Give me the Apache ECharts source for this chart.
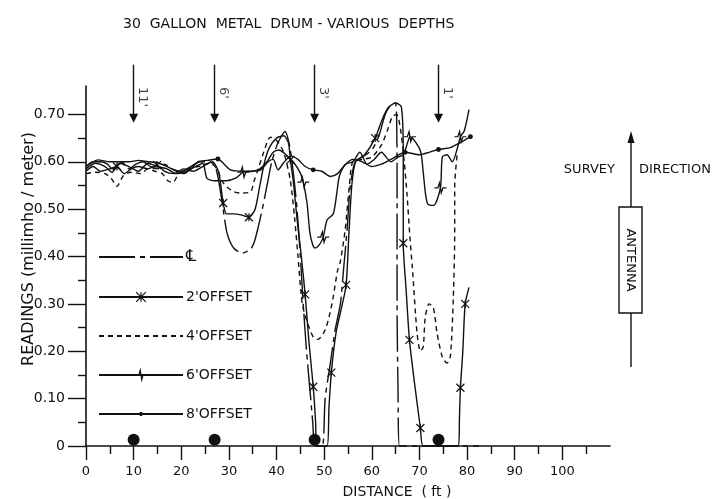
<!DOCTYPE html>
<html>
<head>
<meta charset="utf-8">
<script src="https://cdn.jsdelivr.net/npm/echarts@6/dist/echarts.min.js"></script>
<style>
  html, body { margin: 0; padding: 0; background: #fff; }
  #chart { width: 716px; height: 499px; }
</style>
</head>
<body>
<div id="chart"></div>
<script>
// readings (millimho/meter) vs distance (ft); third value 1 = drawn marker
const clLine = [
  [0, 0.59], [1.5, 0.60], [3, 0.60], [4.5, 0.595], [5.5, 0.585], [6.5, 0.59], [7.5, 0.60], [9, 0.585],
  [10.5, 0.595], [12, 0.60], [13.5, 0.59], [15, 0.585], [16.5, 0.595], [18, 0.585], [20, 0.58], [22, 0.59],
  [24, 0.60], [26, 0.60], [27.3, 0.585], [28.5, 0.52], [29.6, 0.45], [31, 0.418], [32.8, 0.407], [34.5, 0.415],
  [35.3, 0.43], [36.1, 0.46], [37, 0.50], [38, 0.55], [39, 0.60], [40.3, 0.64], [41.8, 0.664], [42.8, 0.63],
  [43.6, 0.57], [44.3, 0.50], [45, 0.40], [45.6, 0.30], [46.3, 0.20], [47, 0.12], [47.6, 0.05], [48.1, 0],
  [49.6, 0], [50.2, 0.10], [51.3, 0.175], [52.3, 0.245], [53.4, 0.30], [54, 0.365], [54.8, 0.456], [55.5, 0.55],
  [56.5, 0.60], [58, 0.61], [60, 0.625], [61.5, 0.655], [62.8, 0.70], [64, 0.72], [64.9, 0.724], [65.2, 0.70],
  [65.3, 0.55], [65.3, 0.30], [65.5, 0.12], [65.8, 0], [70, 0], [76, 0], [82.5, 0]
];
const offset2 = [
  [0, 0.58], [1.5, 0.59], [3, 0.58], [5, 0.585], [6.5, 0.59, 1], [8, 0.575], [9.5, 0.585], [11, 0.59],
  [13, 0.585], [14.9, 0.593, 1], [16.5, 0.58], [18.5, 0.575], [20.5, 0.585], [22.5, 0.58], [24.5, 0.59], [26.5, 0.60],
  [27.8, 0.58], [28.3, 0.55], [28.8, 0.513, 1], [29.5, 0.49], [31, 0.49], [32.5, 0.488], [34.2, 0.483, 1], [35.5, 0.50],
  [36.5, 0.55], [37.5, 0.60], [38.5, 0.63], [40, 0.65], [41.5, 0.655], [42.5, 0.64], [42.9, 0.604, 1], [43.5, 0.56],
  [44.3, 0.48], [45.2, 0.40], [46, 0.32, 1], [46.8, 0.22], [47.7, 0.125, 1], [48.2, 0.05], [48.4, 0], [50.6, 0],
  [51, 0.08], [51.5, 0.155, 1], [52.5, 0.24], [53.6, 0.29], [54.6, 0.34, 1], [55.2, 0.45], [55.8, 0.55], [56.6, 0.60],
  [58.5, 0.615], [60.7, 0.65, 1], [62.2, 0.69], [63.5, 0.715], [65, 0.724], [66.2, 0.716], [66.6, 0.62], [66.6, 0.428, 1],
  [67.2, 0.33], [67.9, 0.224, 1], [69, 0.13], [70.2, 0.038, 1], [70.8, 0], [74, 0], [78.2, 0], [78.4, 0.06],
  [78.6, 0.123, 1], [79.1, 0.2], [79.6, 0.30, 1], [80.4, 0.335]
];
const offset4 = [
  [0, 0.575], [2, 0.578], [4, 0.575], [5.3, 0.565], [6.5, 0.548], [7.8, 0.57], [9.5, 0.578], [11.5, 0.575],
  [13, 0.585], [14.5, 0.58], [16, 0.575], [17.2, 0.56], [18.2, 0.556], [19.5, 0.575], [21.5, 0.585], [23.5, 0.59],
  [26, 0.597], [27.5, 0.585], [28.5, 0.56], [29.6, 0.547], [31, 0.537], [32.3, 0.534], [34.5, 0.536], [35.3, 0.56],
  [36.1, 0.583], [37.3, 0.62], [38.7, 0.652], [40, 0.645], [41.5, 0.62], [42.9, 0.56], [43.8, 0.48], [44.5, 0.40],
  [45.4, 0.30], [46.5, 0.26], [47.7, 0.23], [48.7, 0.225], [50.2, 0.245], [51.2, 0.28], [51.9, 0.315], [52.8, 0.37],
  [53.4, 0.39], [54.4, 0.456], [55.3, 0.55], [56, 0.60], [58, 0.605], [60, 0.61], [62, 0.635], [63.4, 0.67],
  [64.3, 0.695], [65.2, 0.70], [66, 0.67], [66.8, 0.60], [67.4, 0.53], [68, 0.44], [68.5, 0.378], [69.5, 0.238],
  [70.2, 0.20], [70.8, 0.21], [71.2, 0.27], [72, 0.30], [72.9, 0.293], [73.7, 0.238], [74.8, 0.188], [75.8, 0.175],
  [76.5, 0.19], [77.1, 0.31], [77.4, 0.45], [77.4, 0.55], [77.9, 0.614]
];
const offset6 = [
  [0, 0.585], [2, 0.597], [4, 0.59], [5.5, 0.578], [7, 0.597], [9, 0.59], [11, 0.58], [13, 0.597],
  [15, 0.59], [17, 0.585], [19, 0.575], [21, 0.58], [23, 0.59], [24.5, 0.597], [25.4, 0.565], [27, 0.56],
  [29.5, 0.56], [31.5, 0.566], [33, 0.578, 1], [35, 0.58], [36.5, 0.585], [38, 0.60], [39.3, 0.62], [40.5, 0.625],
  [42, 0.615], [43.5, 0.60], [45, 0.576], [45.6, 0.557, 1], [46.4, 0.513], [47, 0.45], [47.6, 0.425], [48.1, 0.418],
  [49, 0.425], [49.8, 0.441, 1], [50.6, 0.477], [51.9, 0.49], [52.6, 0.53], [53.2, 0.57], [54.5, 0.595], [56, 0.60],
  [57.5, 0.62], [59, 0.595], [60.5, 0.605], [62, 0.62], [64, 0.60], [65.5, 0.61], [66.6, 0.615], [67.5, 0.64],
  [68, 0.653, 1], [69.3, 0.64], [70.3, 0.62], [70.8, 0.577], [71.3, 0.53], [71.8, 0.51], [73, 0.508], [74.4, 0.545, 1],
  [74.8, 0.61], [75.8, 0.615], [76.9, 0.60], [78, 0.63], [78.6, 0.653, 1], [79.4, 0.665], [80.4, 0.71]
];
const offset8 = [
  [0, 0.59], [1.5, 0.60], [2.5, 0.604], [5, 0.60], [7, 0.60], [9, 0.60], [11, 0.603], [13, 0.60],
  [15, 0.598], [17, 0.59], [19, 0.58], [20.5, 0.575], [22, 0.585], [23.5, 0.60], [25.5, 0.603], [27.7, 0.606, 1],
  [29, 0.595], [30.3, 0.583], [33, 0.58], [36.5, 0.582], [38.2, 0.60], [39.3, 0.605], [40.3, 0.583], [41.5, 0.598],
  [43, 0.612], [44.5, 0.605], [46, 0.59], [47.7, 0.583, 1], [49.5, 0.58], [51.3, 0.569], [52.8, 0.575], [54.5, 0.595],
  [56, 0.605], [58, 0.60], [60, 0.59], [62, 0.595], [64, 0.605], [67, 0.62, 1], [70, 0.615], [72, 0.62],
  [74, 0.626, 1], [76.5, 0.63], [78.5, 0.64], [80.7, 0.653, 1]
];

// buried drums: distance along survey line and depth
const drumDist = [10, 27, 48, 74];
const drumDepth = ["11'", "6'", "3'", "1'"];

const seriesNames = ['\u2104', "2'OFFSET", "4'OFFSET", "6'OFFSET", "8'OFFSET"];

const xMajorTicks = [0, 10, 20, 30, 40, 50, 60, 70, 80, 90, 100];
const xMinorTicks = [5, 15, 25, 35, 45, 55, 65, 75, 85, 95, 105];
const yMajorTicks = [0, 0.1, 0.2, 0.3, 0.4, 0.5, 0.6, 0.7];
const yMinorTicks = [0.05, 0.15, 0.25, 0.35, 0.45, 0.55, 0.65];

const INK = '#111';
const FONT = 'DejaVu Sans';
const ARROW_TOP = 0.805, ARROW_TIP = 0.692, LABEL_Y = 0.758, DOT_Y = 0.013;

const starSym = 'path://M0,0 L8,8 M8,0 L0,8 M4,0 L4,8';
const zigSym = 'path://M0,6 L4,6 L6,0 L8,12 L10,6 L14,6';
const dotSym = 'path://M0,0 M12,12 M6,4 A2,2 0 1 1 6,8 A2,2 0 1 1 6,4 Z';

function toItems(pts) {
  return pts.map(p => p[2] ? [p[0], p[1]] : { value: [p[0], p[1]], symbol: 'none' });
}

function curve(name, pts, dash, sym, symSize, fill) {
  return {
    name: name,
    type: 'line',
    smooth: 0.25,
    symbol: sym,
    symbolSize: symSize,
    showSymbol: true,
    clip: false,
    silent: true,
    data: toItems(pts),
    lineStyle: { color: INK, width: 1.4, type: dash },
    itemStyle: { color: fill, borderColor: INK, borderWidth: 1.2, opacity: 1 },
    z: 3
  };
}

const chart = echarts.init(document.getElementById('chart'));

const option = {
  animation: false,
  backgroundColor: '#fff',
  textStyle: { fontFamily: FONT, color: INK },
  title: {
    text: '30  GALLON  METAL  DRUM - VARIOUS  DEPTHS',
    left: 118, top: 12,
    textStyle: { fontFamily: FONT, fontSize: 14, fontWeight: 'normal', color: INK }
  },
  legend: {
    orient: 'vertical',
    left: 98, top: 249,
    itemWidth: 84, itemHeight: 12, itemGap: 25,
    padding: 0,
    selectedMode: false,
    textStyle: { fontFamily: FONT, fontSize: 14, color: INK, padding: [0, 0, 0, -2] },
    data: [
      { name: seriesNames[0], itemStyle: { color: 'transparent', borderWidth: 0 }, textStyle: { fontSize: 16 } },
      { name: seriesNames[1], itemStyle: { color: 'transparent', borderColor: INK, borderWidth: 1.2 } },
      { name: seriesNames[2], itemStyle: { color: 'transparent', borderWidth: 0 } },
      { name: seriesNames[3], itemStyle: { color: 'transparent', borderColor: INK, borderWidth: 1.2 } },
      { name: seriesNames[4], itemStyle: { color: INK, borderColor: INK, borderWidth: 1 } }
    ]
  },
  grid: { left: 86, right: 106, top: 86, bottom: 53 },
  xAxis: [
    {
      type: 'value', min: 0, max: 110, position: 'bottom',
      axisLine: { lineStyle: { color: INK, width: 1.6 } },
      axisTick: { customValues: xMajorTicks, length: 14, lineStyle: { color: INK, width: 1.4 } },
      axisLabel: { customValues: xMajorTicks, margin: 19, fontSize: 13, color: INK, fontFamily: FONT },
      splitLine: { show: false }
    },
    {
      type: 'value', min: 0, max: 110, position: 'bottom',
      axisLine: { show: false },
      axisTick: { customValues: xMinorTicks, length: 8, lineStyle: { color: INK, width: 1.4 } },
      axisLabel: { show: false },
      splitLine: { show: false }
    }
  ],
  yAxis: [
    {
      type: 'value', min: 0, max: 0.76, position: 'left',
      axisLine: { show: true, lineStyle: { color: INK, width: 1.6 } },
      axisTick: { show: true, customValues: yMajorTicks, length: 18, lineStyle: { color: INK, width: 1.4 } },
      axisLabel: {
        customValues: yMajorTicks, margin: 21, fontSize: 14, color: INK, fontFamily: FONT,
        formatter: v => (v === 0 ? '0' : v.toFixed(2))
      },
      splitLine: { show: false }
    },
    {
      type: 'value', min: 0, max: 0.76, position: 'left',
      axisLine: { show: false },
      axisTick: { show: true, customValues: yMinorTicks, length: 8, lineStyle: { color: INK, width: 1.4 } },
      axisLabel: { show: false },
      splitLine: { show: false }
    }
  ],
  series: [
    curve(seriesNames[0], clLine, [36, 5, 5, 5], 'none', 8, 'transparent'),
    curve(seriesNames[1], offset2, 'solid', starSym, 8, 'transparent'),
    curve(seriesNames[2], offset4, [5, 4], 'none', 8, 'transparent'),
    curve(seriesNames[3], offset6, 'solid', zigSym, [12, 10], 'transparent'),
    curve(seriesNames[4], offset8, 'solid', dotSym, 11, INK),
    {
      // drum positions on the survey line
      type: 'scatter', silent: true, clip: false,
      symbol: 'circle', symbolSize: 12,
      itemStyle: { color: INK, opacity: 1 },
      data: drumDist.map(d => [d, DOT_Y]),
      z: 4
    },
    {
      // depth arrows above each drum
      type: 'lines', coordinateSystem: 'cartesian2d', silent: true, clip: false,
      symbol: ['none', 'triangle'], symbolSize: 9,
      lineStyle: { color: INK, width: 1.4, opacity: 1 },
      data: drumDist.map(d => ({ coords: [[d, ARROW_TOP], [d, ARROW_TIP]] })),
      z: 4
    },
    {
      type: 'scatter', silent: true, clip: false,
      symbol: 'circle', symbolSize: 1,
      itemStyle: { color: 'transparent' },
      label: {
        show: true, position: 'right', distance: 8, rotate: -90,
        fontSize: 13, color: INK, fontFamily: FONT
      },
      data: drumDist.map((d, i) => ({ value: [d, LABEL_Y], label: { formatter: drumDepth[i] } })),
      z: 4
    }
  ],
  graphic: [
    {
      type: 'text', x: 29, y: 249, rotation: Math.PI / 2,
      style: { text: 'READINGS (millimho / meter)', font: '16px "DejaVu Sans"', fill: INK, textAlign: 'center', textVerticalAlign: 'middle' }
    },
    {
      type: 'text', x: 397, y: 492,
      style: { text: 'DISTANCE  ( ft )', font: '14px "DejaVu Sans"', fill: INK, textAlign: 'center', textVerticalAlign: 'middle' }
    },
    {
      type: 'text', x: 615, y: 170,
      style: { text: 'SURVEY', font: '13px "DejaVu Sans"', fill: INK, textAlign: 'right', textVerticalAlign: 'middle' }
    },
    {
      type: 'text', x: 639, y: 170,
      style: { text: 'DIRECTION', font: '13px "DejaVu Sans"', fill: INK, textAlign: 'left', textVerticalAlign: 'middle' }
    },
    { type: 'line', shape: { x1: 631, y1: 140, x2: 631, y2: 207 }, style: { stroke: INK, lineWidth: 1.4 } },
    { type: 'polygon', shape: { points: [[631, 131], [627.5, 143], [634.5, 143]] }, style: { fill: INK } },
    { type: 'rect', shape: { x: 619, y: 207, width: 23, height: 106 }, style: { fill: '#fff', stroke: INK, lineWidth: 1.4 } },
    {
      type: 'text', x: 630.5, y: 260, rotation: -Math.PI / 2,
      style: { text: 'ANTENNA', font: '13px "DejaVu Sans"', fill: INK, textAlign: 'center', textVerticalAlign: 'middle' }
    },
    { type: 'line', shape: { x1: 631, y1: 313, x2: 631, y2: 367 }, style: { stroke: INK, lineWidth: 1.4 } }
  ]
};

chart.setOption(option);
</script>
</body>
</html>
